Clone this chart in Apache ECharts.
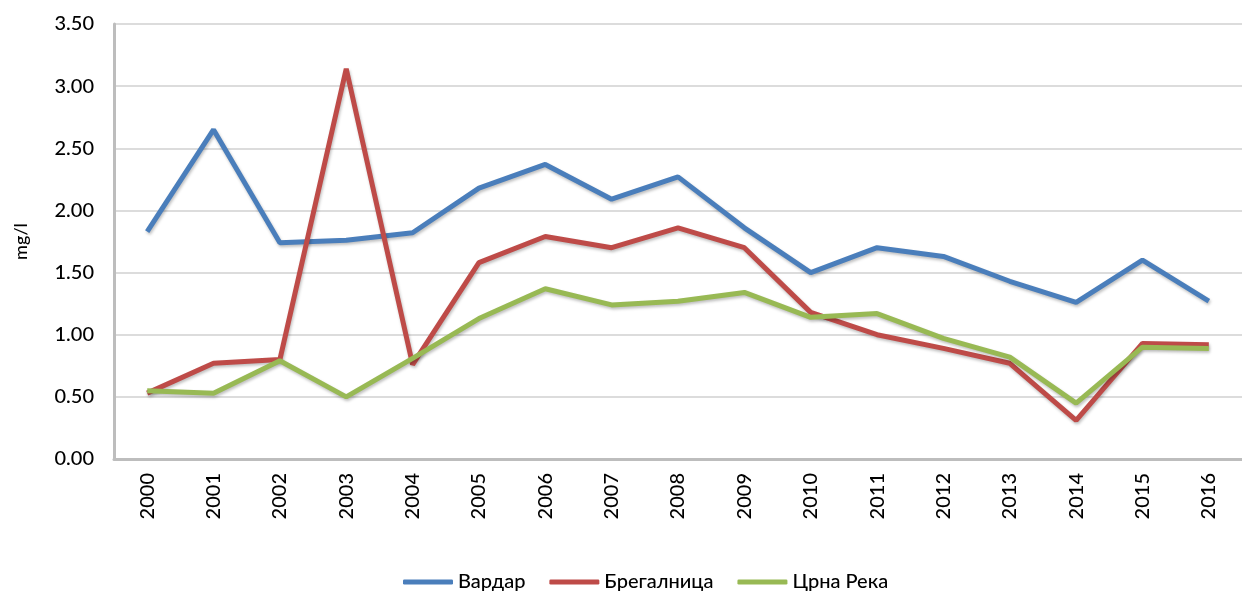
<!DOCTYPE html>
<html>
<head>
<meta charset="utf-8">
<script src="https://cdn.jsdelivr.net/npm/echarts@6/dist/echarts.min.js"></script>
<style>
  html, body { margin: 0; padding: 0; background: #fff; }
  #chart { width: 1242px; height: 594px; }
</style>
</head>
<body>
<div id="chart"></div>
<script>
// години
var years = ['2000', '2001', '2002', '2003', '2004', '2005', '2006', '2007', '2008',
             '2009', '2010', '2011', '2012', '2013', '2014', '2015', '2016'];

// mg/l по река
var vardar     = [1.83, 2.65, 1.74, 1.76, 1.82, 2.18, 2.37, 2.09, 2.27, 1.86, 1.50, 1.70, 1.63, 1.43, 1.26, 1.60, 1.27];
var bregalnica = [0.53, 0.77, 0.80, 3.14, 0.76, 1.58, 1.79, 1.70, 1.86, 1.70, 1.18, 1.00, 0.89, 0.77, 0.31, 0.93, 0.92];
var crnaReka   = [0.55, 0.53, 0.79, 0.50, 0.81, 1.13, 1.37, 1.24, 1.27, 1.34, 1.14, 1.17, 0.97, 0.82, 0.45, 0.90, 0.89];

var names  = ['Вардар', 'Брегалница', 'Црна Река'];
var colors = ['#4a7ebb', '#be4b48', '#98b954'];

var font = 'Lato, "Open Sans", sans-serif';
var textColor = '#000';

function makeLine(name, data, color) {
  return {
    name: name,
    type: 'line',
    data: data,
    symbol: 'none',
    color: color,
    lineStyle: {
      width: 5,
      color: color,
      shadowColor: 'rgba(0,0,0,0.25)',
      shadowBlur: 3,
      shadowOffsetX: 1,
      shadowOffsetY: 2
    }
  };
}

var myChart = echarts.init(document.getElementById('chart'));

var option = {
  backgroundColor: '#fff',
  animation: false,
  textStyle: { fontFamily: font },
  legend: {
    bottom: -3,
    left: 398,
    itemWidth: 50,
    itemHeight: 5,
    itemGap: 24,
    icon: 'roundRect',
    textStyle: { fontSize: 20, color: textColor, fontFamily: font, fontWeight: 500 },
    data: names
  },
  grid: {
    left: 114,
    top: 24,
    width: 1137,
    height: 435
  },
  xAxis: {
    type: 'category',
    data: years,
    boundaryGap: true,
    axisLine: { show: true, lineStyle: { color: '#bdbdbd', width: 3 } },
    axisTick: { show: false },
    axisLabel: {
      rotate: 90,
      margin: 14,
      fontSize: 20,
      color: textColor,
      fontFamily: font,
      fontWeight: 500
    }
  },
  yAxis: {
    type: 'value',
    min: 0,
    max: 3.5,
    interval: 0.5,
    name: 'mg/l',
    nameLocation: 'middle',
    nameRotate: 90,
    nameGap: 84,
    nameTextStyle: { fontSize: 18, color: textColor, fontFamily: font, fontWeight: 500 },
    axisLine: { show: true, lineStyle: { color: '#bdbdbd', width: 3 } },
    axisTick: { show: false },
    axisLabel: {
      margin: 20,
      fontSize: 20,
      color: textColor,
      fontFamily: font,
      fontWeight: 500,
      formatter: function (v) { return v.toFixed(2); }
    },
    splitLine: { show: true, lineStyle: { color: '#dcdcdc', width: 2 } }
  },
  series: [
    makeLine(names[0], vardar, colors[0]),
    makeLine(names[1], bregalnica, colors[1]),
    makeLine(names[2], crnaReka, colors[2])
  ]
};

myChart.setOption(option);
</script>
</body>
</html>
